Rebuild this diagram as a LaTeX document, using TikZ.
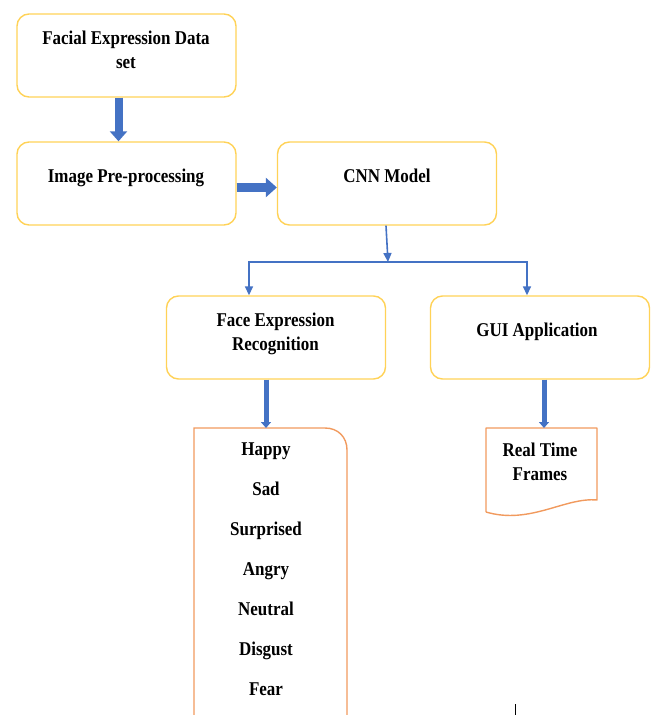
\documentclass[tikz,border=0pt]{standalone}
\usepackage{fontspec}
\setmainfont{Liberation Serif}
\newfontfamily\lbfont[FakeStretch=0.87]{Liberation Serif}
\usetikzlibrary{arrows.meta}
\definecolor{boxy}{HTML}{FFD257}
\definecolor{orng}{HTML}{F19A5E}
\definecolor{blu}{HTML}{4472C4}
\begin{document}
\begin{tikzpicture}[x=1pt,y=-1pt,
  box/.style={draw=boxy,line width=1.4pt,rounded corners=12pt,minimum width=219pt,minimum height=83pt,inner sep=0pt},
  lbl/.style={font=\lbfont\fontsize{19.5}{22}\selectfont\bfseries,anchor=base,inner sep=0pt},
  bigarrow/.style={draw=blu,line width=8pt,-{Triangle[width=17pt,length=10pt]}},
  bigarrowh/.style={draw=blu,line width=9pt,-{Triangle[width=19pt,length=11pt]}},
  smallarrow/.style={draw=blu,line width=5pt,-{Triangle[width=10pt,length=6pt]}},
  thinarrow/.style={draw=blu,line width=1.6pt,-{Triangle[width=8pt,length=9pt]}},
  outline/.style={draw=orng,line width=1.4pt}
]
\useasboundingbox (0,0) rectangle (655,715);

% boxes
\node[box] (b1) at (126.5,55.5) {};
\node[box] (b2) at (126.5,183.5) {};
\node[box] (b3) at (387,183.5) {};
\node[box] (b4) at (276,337.5) {};
\node[box] (b5) at (540,337.5) {};

% texts
\node[lbl] (t1a) at (126,44) {Facial Expression Data};
\node[lbl] (t1b) at (126,68) {set};
\node[lbl] (t2) at (126,182) {Image Pre-processing};
\node[lbl] (t3) at (387,182) {CNN Model};
\node[lbl] (t4a) at (275.5,326) {Face Expression};
\node[lbl] (t4b) at (275.5,350) {Recognition};
\node[lbl] (t5) at (537,336) {GUI Application};

% list box (open at the bottom, rounded top-right corner)
\coordinate (lst) at (266,428);
\draw[outline] (194,717) -- (194,428) -- (325,428) .. controls (338,428) and (347,437) .. (347,450) -- (347,717);
\node[lbl] (l1) at (266,455) {Happy};
\node[lbl] (l2) at (266,495) {Sad};
\node[lbl] (l3) at (266,535) {Surprised};
\node[lbl] (l4) at (266,575) {Angry};
\node[lbl] (l5) at (266,615) {Neutral};
\node[lbl] (l6) at (266,655) {Disgust};
\node[lbl] (l7) at (266,695) {Fear};

% document shape
\coordinate (doc) at (544,428);
\draw[outline,line join=round] (486,512) -- (486,428) -- (597,428) -- (597,500) .. controls (565,497) and (530,525) .. (486,512);
\node[lbl] (d1) at (540,456) {Real Time};
\node[lbl] (d2) at (540,480) {Frames};

% block arrows
\draw[bigarrow] ([xshift=-8pt]b1.south) -- ([xshift=-8pt]b2.north);
\draw[bigarrowh] ([yshift=-4pt]b2.east) -- ([yshift=-4pt]b3.west);
\draw[smallarrow] (b4.south -| lst) -- (lst);
\draw[smallarrow] (b5.south -| doc) -- (doc);

% thin connectors
\coordinate (j) at (388,262);
\coordinate (jl) at (249,262);
\coordinate (jr) at (527,262);
\draw[thinarrow] ([xshift=-1pt]b3.south) -- (j);
\draw[thinarrow] (j) -| (b4.north -| jl);
\draw[thinarrow] (j) -| (b5.north -| jr);

% stray mark
\draw[black,line width=0.8pt] (515,704) -- (515,715);
\end{tikzpicture}
\end{document}
